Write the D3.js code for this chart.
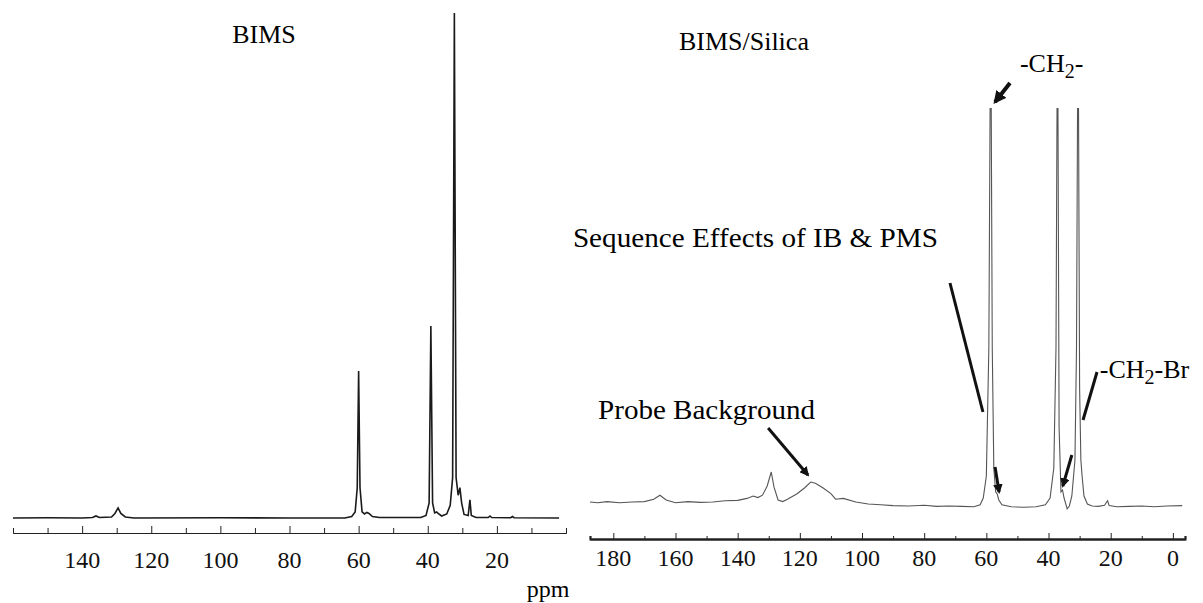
<!DOCTYPE html>
<meta charset="utf-8">
<body style="margin:0;background:#fff">
<div class="chart"></div>
<script src="https://d3js.org/d3.v7.min.js"></script>
<script>
// BIMS spectrum (ppm, intensity)
const bimsPpm = [160,150,140,137,136,135,131.5,130.5,129.6,128.8,127.5,125,100,80,64,62,61,60.4,60,59.6,59,58.3,57.6,57,56,54,42,40.5,39.6,39.1,38.6,38,37.4,37,36,34.5,33.5,32.8,32.3,31.8,31.2,30.7,30.2,29.5,28.3,27.8,27.4,26,22.5,22,21.5,16,15.5,15,2];
const bimsInt = [0,0.05,0,0.1,0.4,0.1,0.2,0.9,2.0,0.9,0.2,0,0.05,0,0,0.3,1.2,6,29.1,6,1.2,0.8,1.1,0.9,0.3,0.1,0.1,0.5,3,38,3,1,1.2,0.9,0.4,0.8,2.5,8,100,8,4.5,6,3,0.7,0.5,3.6,0.5,0.1,0.1,0.4,0.1,0.05,0.3,0.05,0];

// BIMS/Silica spectrum
const silPpm = [187.5,185,182,178,174,170,167,165,163,160,156,152,148,144,140,137,135,133.5,132,130.5,129.2,128.3,127,125.5,124,121,118.5,116.5,115,112.5,110,108.5,106,102,98,94,90,85,80,76,72,68,64,62,61,60,59.2,58.6,58.1,57.6,57,56.5,56,55,52,48,44,41,39.5,38.3,37.6,37.1,36.6,36,35.5,35,34,33.3,32.5,31.5,31,30.5,30,29.6,29.2,28.6,27.5,26,24,22,21,20.5,18,14,10,6,2,-3];
const silInt = [1.5,1.3,1.6,1.3,1.5,1.6,2.2,3.2,2.0,1.3,1.6,1.4,1.5,1.8,1.9,2.4,3.0,2.6,3.2,5.5,9,5.2,2.0,1.6,2.2,3.5,5.0,6.5,6.2,5.0,3.6,2.2,2.4,1.5,1.0,0.8,0.6,0.5,0.7,0.4,0.5,0.4,0.3,0.8,2.5,8,40,130,40,10,4,3.5,2,0.8,0.3,0.2,0.3,0.8,2.5,10,40,130,20,4,4.5,2.5,-0.2,0.5,3,12,40,130,30,12,8,3,1,0.5,0.4,0.7,1.8,0.6,0.3,0.4,0.5,0.3,0.5,0.6];

const leftTicks = [140,120,100,80,60,40,20];
const rightTicks = [180,160,140,120,100,80,60,40,20,0];

// annotation anchors in data units (ppm, intensity)
const notes = [
  {text: "Sequence Effects of IB & PMS", ppm: 193, val: 65.25, len: 365},
  {text: "Probe Background", ppm: 184.9, val: 22.25, len: 217}
];
const pointers = [
  {from: [71.7, 56.25], to: [61.1, 24], head: false, w: 3},
  {from: [130.2, 20], to: [117.4, 8.25], head: true, w: 3},
  {from: [52.4, 106.25], to: [57.2, 101.5], head: true, w: 4},
  {from: [24.4, 34], to: [28.9, 22], head: false, w: 3},
  {from: [57.2, 10.25], to: [55.9, 4], head: true, w: 3},
  {from: [32.5, 13.25], to: [35.4, 5.5], head: true, w: 3}
];

const width = 1203, height = 603;
const font = "Liberation Serif, Times New Roman, serif";

const svg = d3.select(".chart").append("svg")
    .attr("width", width).attr("height", height)
    .attr("font-family", font);

svg.append("defs").append("marker")
    .attr("id", "head")
    .attr("viewBox", "0 0 10 10")
    .attr("refX", 8).attr("refY", 5)
    .attr("markerWidth", 3.2).attr("markerHeight", 3.2)
    .attr("orient", "auto")
    .append("path").attr("d", "M0,0L10,5L0,10z").attr("fill", "#111");

// tick labels drawn by hand so they keep the serif face
function tickLabels(g, scale, values, y) {
  g.selectAll("text.tl").data(values).join("text")
      .attr("class", "tl")
      .attr("x", d => scale(d)).attr("y", y)
      .attr("text-anchor", "middle")
      .attr("font-family", font).attr("font-size", 24).attr("fill", "#111")
      .text(d => d);
}

// ---- left panel
const xL = d3.scaleLinear().domain([160, 0]).range([13, 566]);
const yL = d3.scaleLinear().domain([0, 100]).range([518, 13]);

svg.append("path")
    .datum(d3.zip(bimsPpm, bimsInt))
    .attr("fill", "none").attr("stroke", "#1a1a1a").attr("stroke-width", 1.6)
    .attr("d", d3.line().x(d => xL(d[0])).y(d => yL(d[1])));

const axL = svg.append("g").attr("transform", "translate(0,533)");
axL.call(d3.axisBottom(xL).tickValues(d3.range(0, 161, 2)).tickSize(-3).tickFormat(""));
axL.call(d3.axisBottom(xL).tickValues(d3.range(10, 160, 20)).tickSize(-5).tickFormat(""));
axL.append("g").call(d3.axisBottom(xL).tickValues(leftTicks).tickSize(-7).tickSizeOuter(0).tickFormat(""));
axL.selectAll("path.domain").attr("stroke", "#222");
axL.selectAll("line").attr("stroke", "#222");
tickLabels(svg.append("g"), xL, leftTicks, 568);

svg.append("text").attr("x", xL(87.4)).attr("y", yL(94))
    .attr("text-anchor", "middle").attr("font-size", 26).text("BIMS");

// ---- right panel
const xR = d3.scaleLinear().domain([187.5, -3.9]).range([590, 1185]);
const yR = d3.scaleLinear().domain([0, 100]).range([508, 108]);

svg.append("clipPath").attr("id", "clipR")
    .append("rect").attr("x", 580).attr("y", yR(100)).attr("width", 620).attr("height", 500);

svg.append("path")
    .datum(d3.zip(silPpm, silInt))
    .attr("clip-path", "url(#clipR)")
    .attr("fill", "none").attr("stroke", "#555").attr("stroke-width", 1.1)
    .attr("d", d3.line().x(d => xR(d[0])).y(d => yR(d[1])));

const axR = svg.append("g").attr("transform", "translate(0,539)");
axR.call(d3.axisBottom(xR).tickValues(d3.range(10, 181, 20)).tickSize(-3).tickFormat(""));
axR.append("g").call(d3.axisBottom(xR).tickValues(rightTicks).tickSize(-6).tickSizeOuter(0).tickFormat(""));
axR.selectAll("path.domain").attr("stroke", "#222").attr("stroke-width", 2.2);
axR.selectAll("line").attr("stroke", "#222");
tickLabels(svg.append("g"), xR, rightTicks, 566);

svg.append("text").attr("x", xR(158.9)).attr("y", yR(114.5))
    .attr("font-size", 26).text("BIMS/Silica");

// -CH2- and -CH2-Br labels with subscript
const ch2 = svg.append("text").attr("x", xR(49.2)).attr("y", yR(109)).attr("font-size", 26);
ch2.append("tspan").text("-CH");
ch2.append("tspan").attr("dy", 6).attr("font-size", 20).text("2");
ch2.append("tspan").attr("dy", -6).text("-");

const ch2br = svg.append("text").attr("x", xR(23.5)).attr("y", yR(32.5)).attr("font-size", 26);
ch2br.append("tspan").text("-CH");
ch2br.append("tspan").attr("dy", 6).attr("font-size", 20).text("2");
ch2br.append("tspan").attr("dy", -6).text("-Br");

svg.selectAll("text.note").data(notes).join("text")
    .attr("class", "note")
    .attr("x", d => xR(d.ppm)).attr("y", d => yR(d.val))
    .attr("font-size", 27)
    .attr("textLength", d => d.len).attr("lengthAdjust", "spacingAndGlyphs")
    .text(d => d.text);

svg.selectAll("line.ptr").data(pointers).join("line")
    .attr("class", "ptr")
    .attr("x1", d => xR(d.from[0])).attr("y1", d => yR(d.from[1]))
    .attr("x2", d => xR(d.to[0])).attr("y2", d => yR(d.to[1]))
    .attr("stroke", "#111").attr("stroke-width", d => d.w)
    .attr("marker-end", d => d.head ? "url(#head)" : null);

svg.append("text").attr("x", 548).attr("y", 597)
    .attr("text-anchor", "middle").attr("font-size", 24).text("ppm");
</script>
</body>
